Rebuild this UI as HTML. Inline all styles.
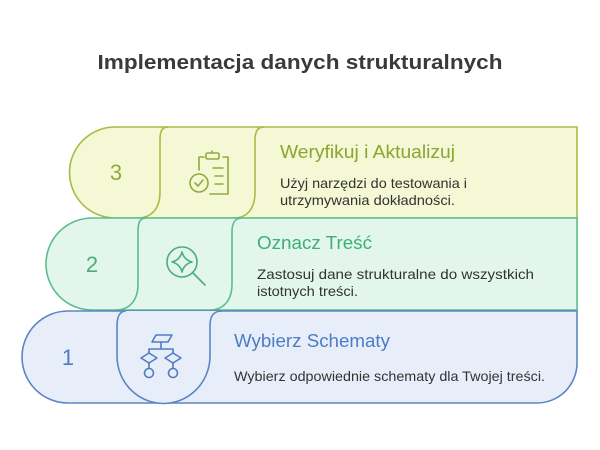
<!DOCTYPE html>
<html><head><meta charset="utf-8"><style>
html,body{margin:0;padding:0;background:#fff;}
svg{display:block;font-family:"Liberation Sans",sans-serif;}
</style></head><body>
<svg width="600" height="450" viewBox="0 0 600 450" xmlns="http://www.w3.org/2000/svg">
<text x="300" y="69" text-anchor="middle" font-size="20" font-weight="bold" fill="#3a3a3a" textLength="405" lengthAdjust="spacingAndGlyphs">Implementacja danych strukturalnych</text>

<!-- Row 3 -->
<path d="M115,127 L577,127 L577,218 L115,218 A45.5,45.5 0 0 1 115,127 Z" fill="#f4f8d4" stroke="#a9bb45" stroke-width="1.6"/>
<path d="M168,127 C161,127 160,133 160,140 L160,192 C160,210 150,218 138,218" fill="none" stroke="#a9bb45" stroke-width="1.6"/>
<path d="M264,127 C257,127 255,133 255,140 L255,192 C255,210 246,218 234,218" fill="none" stroke="#a9bb45" stroke-width="1.6"/>
<text x="116" y="180" text-anchor="middle" font-size="22" fill="#93aa3a">3</text>
<g fill="none" stroke="#93aa3a" stroke-width="1.6" stroke-linecap="round" stroke-linejoin="round">
<path d="M204,157 L199,157 L199,170 M210,194 L228,194 L228,157 L223,157"/>
<rect x="206" y="153" width="13" height="6" rx="1.5"/>
<path d="M212,153 L212,151"/>
<circle cx="199" cy="183" r="9"/>
<path d="M195,183 L198,186 L203,180"/>
<path d="M213,168 L223,168 M215,176 L223,176 M215,184 L223,184"/>
</g>
<text x="280" y="158" font-size="18" fill="#8aa534" textLength="175" lengthAdjust="spacingAndGlyphs">Weryfikuj i Aktualizuj</text>
<text x="280" y="188" font-size="14" fill="#333" textLength="187" lengthAdjust="spacingAndGlyphs">Użyj narzędzi do testowania i</text>
<text x="280" y="205" font-size="14" fill="#333" textLength="175" lengthAdjust="spacingAndGlyphs">utrzymywania dokładności.</text>

<!-- Row 2 -->
<path d="M92,218 L577,218 L577,310 L92,310 A46,46 0 0 1 92,218 Z" fill="#e2f6eb" stroke="#5cbd8c" stroke-width="1.6"/>
<path d="M146,218 C139,218 138,224 138,232 L138,284 C138,302 128,310 116,310" fill="none" stroke="#5cbd8c" stroke-width="1.6"/>
<path d="M242,218 C234,218 232,224 232,232 L232,284 C232,302 222,310 210,310" fill="none" stroke="#5cbd8c" stroke-width="1.6"/>
<text x="92" y="272" text-anchor="middle" font-size="22" fill="#4aae7c">2</text>
<g fill="none" stroke="#4aae7c" stroke-width="1.6" stroke-linecap="round" stroke-linejoin="round">
<circle cx="182" cy="262" r="15"/>
<path d="M193,273 L205,285"/>
<path d="M182,252 Q184,260 192,262 Q184,264 182,272 Q180,264 172,262 Q180,260 182,252 Z"/>
</g>
<text x="257" y="249" font-size="18" fill="#3fae78" textLength="115" lengthAdjust="spacingAndGlyphs">Oznacz Treść</text>
<text x="257" y="279" font-size="14" fill="#333" textLength="277" lengthAdjust="spacingAndGlyphs">Zastosuj dane strukturalne do wszystkich</text>
<text x="257" y="296" font-size="14" fill="#333" textLength="101" lengthAdjust="spacingAndGlyphs">istotnych treści.</text>

<!-- Row 1 -->
<path d="M68,311 L577,311 L577,363 A40,40 0 0 1 537,403 L68,403 A46,46 0 0 1 68,311 Z" fill="#e8eef9" stroke="#5b85c6" stroke-width="1.6"/>
<path d="M126,311 C119,311 117,318 117,326 L117,356 A46,47 0 0 0 210,356 L210,326 C210,318 212,311 222,311" fill="#e8eef9" stroke="#5b85c6" stroke-width="1.6"/>
<text x="68" y="365" text-anchor="middle" font-size="22" fill="#4f7cc4">1</text>
<g fill="none" stroke="#4f7cc4" stroke-width="1.6" stroke-linecap="round" stroke-linejoin="round">
<path d="M156,335 L172,335 L168,342 L152,342 Z"/>
<path d="M161,342 L161,349 M149,349 L173,349 M149,349 L149,353 M173,349 L173,353"/>
<path d="M149,353 L157,358 L149,363 L141,358 Z"/>
<path d="M173,353 L181,358 L173,363 L165,358 Z"/>
<path d="M149,363 L149,368 M173,363 L173,368"/>
<circle cx="149" cy="373" r="4.5"/>
<circle cx="173" cy="373" r="4.5"/>
</g>
<text x="234" y="347" font-size="18" fill="#4d7cc6" textLength="156" lengthAdjust="spacingAndGlyphs">Wybierz Schematy</text>
<text x="234" y="381" font-size="14" fill="#333" textLength="311" lengthAdjust="spacingAndGlyphs">Wybierz odpowiednie schematy dla Twojej treści.</text>
</svg>
</body></html>
